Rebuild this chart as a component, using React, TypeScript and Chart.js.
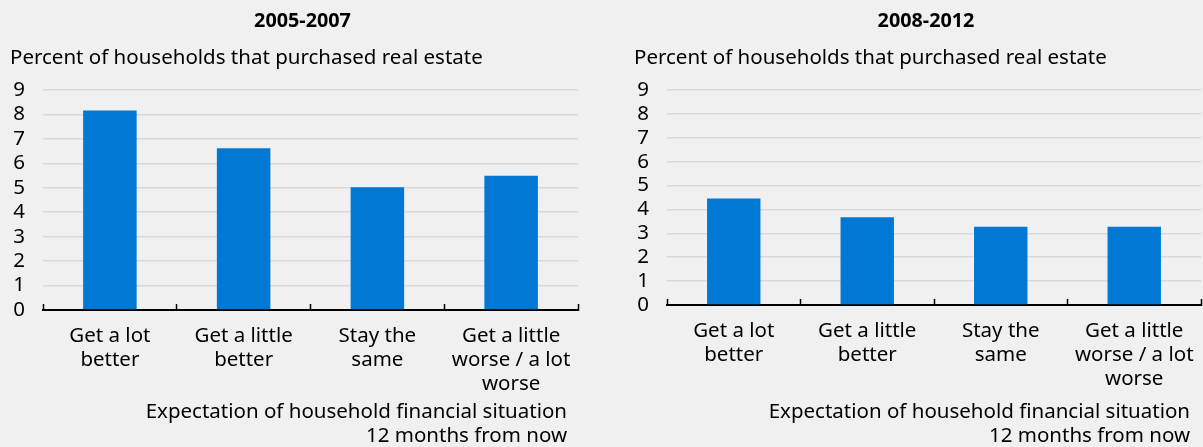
import React, { useEffect, useRef } from "react";
import { Chart, registerables } from "chart.js";

Chart.register(...registerables);

// ---- Data ----
const categories: string[][] = [
  ["Get a lot", "better"],
  ["Get a little", "better"],
  ["Stay the", "same"],
  ["Get a little", "worse / a lot", "worse"],
];
const values2005to2007: number[] = [8.16, 6.62, 5.02, 5.49];
const values2008to2012: number[] = [4.46, 3.67, 3.28, 3.28];
const panelTitles: string[] = ["2005-2007", "2008-2012"];
const yAxisTitle = "Percent of households that purchased real estate";
const xAxisTitle: string[] = ["Expectation of household financial situation", "12 months from now"];
const yMin = 0;
const yMax = 9;

// ---- Styles ----
const FONT = "'Noto Sans', sans-serif";
const BAR_COLOR = "#0078D4";
const GRID_COLOR = "#d9d9d9";
const BG = "#f0f0f0";
const H = 447;
const FS = 20.5;

const textPlugin = {
  id: "panelText",
  afterDraw(chart: any, _args: any, opts: any) {
    const { ctx, chartArea } = chart;
    ctx.save();
    ctx.fillStyle = "#000";
    ctx.textBaseline = "middle";
    ctx.font = `bold 19.8px ${FONT}`;
    ctx.textAlign = "center";
    ctx.fillText(opts.title, (chartArea.left + chartArea.right) / 2 - 8, 21);
    ctx.font = `${FS}px ${FONT}`;
    ctx.textAlign = "left";
    ctx.fillText(opts.subtitle, 10, 58);
    ctx.textAlign = "right";
    opts.xTitle.forEach((line: string, i: number) => {
      ctx.fillText(line, chartArea.right - 11, 412 + i * 24);
    });
    ctx.restore();
  },
};

function Panel(props: {
  title: string;
  values: number[];
  left: number;
  width: number;
  padRight: number;
  axisY: number;
  labelPad: number;
}) {
  const ref = useRef<HTMLCanvasElement>(null);
  useEffect(() => {
    const canvas = ref.current!;
    const chart = new Chart(canvas, {
      type: "bar",
      data: {
        labels: categories,
        datasets: [
          {
            data: props.values,
            backgroundColor: BAR_COLOR,
            categoryPercentage: 1,
            barPercentage: 0.4,
            borderWidth: 0,
          },
        ],
      },
      options: {
        responsive: false,
        animation: false,
        devicePixelRatio: 1,
        layout: { padding: { left: 10, right: props.padRight, top: 90, bottom: 0 } },
        plugins: {
          legend: { display: false },
          tooltip: { enabled: false },
          title: { display: false },
          panelText: { title: props.title, subtitle: yAxisTitle, xTitle: xAxisTitle },
        } as any,
        scales: {
          x: {
            type: "category",
            offset: true,
            grid: {
              display: true,
              drawOnChartArea: false,
              drawTicks: true,
              tickLength: -6,
              color: "#000",
              tickColor: "#000",
              tickWidth: 1.5,
              offset: true,
            },
            border: { display: true, color: "#000", width: 2 },
            ticks: {
              color: "#000",
              font: { family: FONT, size: FS, lineHeight: 24 / FS },
              padding: props.labelPad,
              maxRotation: 0,
              minRotation: 0,
              autoSkip: false,
            },
            afterFit: (s: any) => {
              s.height = H - props.axisY;
              s.paddingLeft = 0;
              s.paddingRight = 0;
            },
          },
          y: {
            min: yMin,
            max: yMax,
            ticks: {
              stepSize: 1,
              autoSkip: false,
              color: "#000",
              font: { family: FONT, size: FS },
              padding: 18,
            },
            grid: { color: GRID_COLOR, lineWidth: 1.5, drawTicks: false },
            border: { display: false },
            afterFit: (s: any) => {
              s.width = 33;
              s.paddingTop = 0;
              s.paddingBottom = 0;
            },
          },
        },
      },
      plugins: [textPlugin],
    });
    return () => chart.destroy();
  }, []);
  return (
    <canvas
      ref={ref}
      width={props.width}
      height={H}
      style={{ position: "absolute", left: props.left, top: 0, width: props.width, height: H }}
    />
  );
}

export default function App() {
  return (
    <div
      style={{
        position: "fixed",
        left: 0,
        top: 0,
        width: 1203,
        height: H,
        background: BG,
        overflow: "hidden",
      }}
    >
      <Panel title={panelTitles[0]} values={values2005to2007} left={0} width={600} padRight={22} axisY={310} labelPad={20} />
      <Panel title={panelTitles[1]} values={values2008to2012} left={624} width={579} padRight={2} axisY={305} labelPad={20.5} />
    </div>
  );
}
